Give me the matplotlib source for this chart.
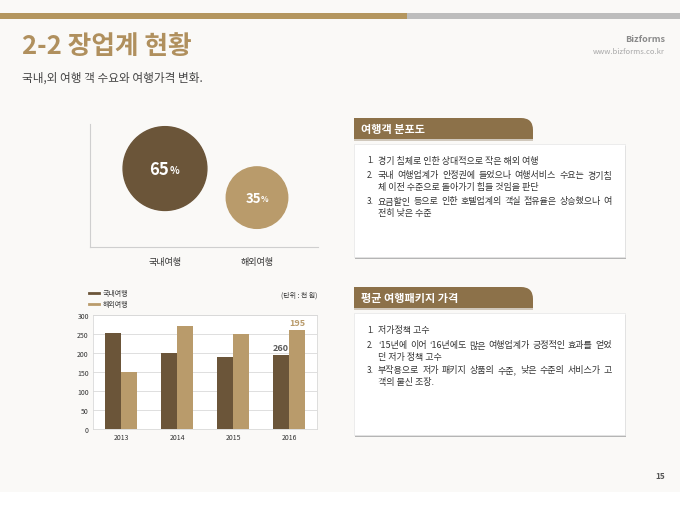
import matplotlib
matplotlib.use("Agg")
import matplotlib.pyplot as plt
import numpy as np
from matplotlib.patches import Rectangle, PathPatch
from matplotlib.path import Path
from matplotlib.lines import Line2D

plt.rcParams['font.family'] = ['Noto Sans CJK KR', 'DejaVu Sans']

# data
bubble_labels = ["국내여행", "해외여행"]
bubble_values = [65, 35]

years = ["2013", "2014", "2015", "2016"]
domestic = [252, 200, 190, 195]
overseas = [150, 270, 250, 260]
series_names = ["국내여행", "해외여행"]
# labels as printed on the slide
point_labels = {(3, 0): "260", (3, 1): "195"}

box1_title = "여행객 분포도"
box1_lines = [
    ("1.", "경기 침체로 인한 상대적으로 작은 해외 여행", False),
    ("2.", "국내 여행업계가 안정권에 들었으나 여행서비스 수요는 경기침", True),
    ("", "체 이전 수준으로 돌아가기 힘들 것임을 판단", False),
    ("3.", "요금할인 등으로 인한 호텔업계의 객실 점유율은 상승했으나 여", True),
    ("", "전히 낮은 수준", False),
]
box2_title = "평균 여행패키지 가격"
box2_lines = [
    ("1.", "저가정책 고수", False),
    ("2.", "‘15년에 이어 ‘16년에도 많은 여행업계가 긍정적인 효과를 얻었", True),
    ("", "던 저가 정책 고수", False),
    ("3.", "부작용으로 저가 패키지 상품의 수준, 낮은 수준의 서비스가 고", True),
    ("", "객의 불신 조장.", False),
]

dark = "#6b5539"
gold = "#b99b6b"
title_col = "#b0905e"
tab_col = "#8c7149"

W, H = 680, 510
fig = plt.figure(figsize=(6.8, 5.1), dpi=100)
fig.patch.set_facecolor("#faf9f7")

bg = fig.add_axes([0, 0, 1, 1], zorder=0)
bg.set_xlim(0, W)
bg.set_ylim(H, 0)
bg.axis("off")
renderer = fig.canvas.get_renderer()

# bottom white strip and top band
bg.add_patch(Rectangle((0, 493), W, 17, color="white", lw=0))
bg.add_patch(Rectangle((0, 14), 407, 6, color="#b4965f", lw=0))
bg.add_patch(Rectangle((407, 14), W - 407, 6, color="#bdbdbd", lw=0))

bg.text(22, 47, "2-2 장업계 현황", fontsize=18.5, fontweight="bold", color=title_col, va="center")
bg.text(22, 78, "국내,외 여행 객 수요와 여행가격 변화.", fontsize=8.4, color="#444444", va="center")
bg.text(665, 40, "Bizforms", fontsize=6.5, fontweight="bold", color="#8a8a8a", ha="right", va="center")
bg.text(665, 52, "www.bizforms.co.kr", fontsize=5.5, color="#a8a8a8", ha="right", va="center")
bg.text(660, 477, "15", fontsize=6, fontweight="bold", color="#555555", ha="center", va="center")


def put_line(txt, y, x_left, x_right, justify, fs):
    if not justify:
        bg.text(x_left, y, txt, fontsize=fs, color="#333333", va="center")
        return
    words = txt.split(" ")
    objs = [bg.text(0, y, w, fontsize=fs, color="#333333", va="center") for w in words]
    widths = [o.get_window_extent(renderer).width for o in objs]
    gap = (x_right - x_left - sum(widths)) / (len(words) - 1)
    x = x_left
    for o, w in zip(objs, widths):
        o.set_x(x)
        x += w + gap


def text_box(top, bottom, title, lines, line_ys):
    x0, x1 = 354, 625
    # tab with rounded top-right corner
    tt, tb, tr = top - 26, top - 5, 533
    r = 12
    verts = [(x0, tb), (x0, tt), (tr - r, tt), (tr, tt), (tr, tt + r), (tr, tb), (x0, tb)]
    codes = [Path.MOVETO, Path.LINETO, Path.LINETO, Path.CURVE3, Path.CURVE3, Path.LINETO, Path.CLOSEPOLY]
    bg.add_patch(PathPatch(Path(verts, codes), facecolor=tab_col, lw=0))
    bg.add_patch(Rectangle((x0, tb), tr - x0, 1.5, color="#d0c8bc", lw=0))
    bg.text(x0 + 7, (tt + tb) / 2 + 0.5, title, fontsize=8, fontweight="bold", color="white", va="center")
    # box with shadow
    bg.add_patch(Rectangle((x0 + 1, top + 2), x1 - x0, bottom - top, color="#b5b5b5", lw=0))
    bg.add_patch(Rectangle((x0, top), x1 - x0, bottom - top, facecolor="white", edgecolor="#e6e6e6", lw=0.5))
    for (num, txt, just), y in zip(lines, line_ys):
        if num:
            bg.text(367, y, num, fontsize=5.8, color="#333333", va="center")
        put_line(txt, y, 378, 612, just, 6.5)


text_box(145, 258, box1_title, box1_lines, [161, 176, 187.5, 202, 213.5])
text_box(314, 436, box2_title, box2_lines, [331, 346, 357.5, 371, 382.5])

# bubble chart
axb = fig.add_axes([90 / W, 1 - 248 / H, 228 / W, 123 / H], zorder=1)
axb.patch.set_alpha(0)
bx = np.arange(len(bubble_values))
axb.scatter(bx, bubble_values, s=[v * 56 for v in bubble_values], c=[dark, gold], zorder=3)
axb.set_xlim(-0.815, 1.663)
axb.set_ylim(-16, 111)
axb.set_yticks([])
axb.set_xticks(bx)
axb.set_xticklabels(bubble_labels, fontsize=6.5, color="#333333")
axb.tick_params(axis="x", length=0, pad=7)
for s in ["top", "right"]:
    axb.spines[s].set_visible(False)
for s in ["left", "bottom"]:
    axb.spines[s].set_color("#cfcfcf")
    axb.spines[s].set_linewidth(0.8)
big = [12, 9.5]
for i, v in enumerate(bubble_values):
    axb.annotate(str(v), (bx[i], v), xytext=(3, 0), textcoords="offset points",
                 ha="right", va="center", fontsize=big[i], fontweight="bold", color="white", zorder=4)
    axb.annotate("%", (bx[i], v), xytext=(3, -1), textcoords="offset points",
                 ha="left", va="center", fontsize=big[i] * 0.6, fontweight="bold", color="white", zorder=4)

# bar chart
ax = fig.add_axes([93 / W, 1 - 430 / H, 224 / W, 114 / H], zorder=1)
ax.set_facecolor("white")
xi = np.arange(len(years))
bw = 0.29
ax.bar(xi - bw / 2, domestic, bw, color=dark, zorder=3)
ax.bar(xi + bw / 2, overseas, bw, color=gold, zorder=3)
ax.set_ylim(0, 300)
ax.set_xlim(-0.5, len(years) - 0.5)
ax.set_yticks(range(0, 301, 50))
ax.yaxis.grid(True, color="#d9d9d9", lw=0.6, zorder=0)
ax.set_xticks(xi)
ax.set_xticklabels(years)
ax.tick_params(labelsize=5, colors="#333333", length=0, pad=3)
for s in ax.spines.values():
    s.set_color("#d9d9d9")
    s.set_linewidth(0.6)
for (i, k), lab in point_labels.items():
    vals = domestic if k == 0 else overseas
    off = -bw / 2 if k == 0 else bw / 2
    ax.annotate(lab, (i + off, vals[i]), xytext=(0, 2), textcoords="offset points",
                ha="center", va="bottom", fontsize=6.5, fontweight="bold",
                color="#595959" if k == 0 else gold)

handles = [Line2D([], [], color=dark, lw=2), Line2D([], [], color=gold, lw=2)]
fig.legend(handles, series_names, loc="upper left", bbox_to_anchor=(86 / W, 1 - 287 / H),
           frameon=False, fontsize=5, handlelength=1.3, handletextpad=0.6, labelspacing=0.4,
           borderpad=0, labelcolor="#333333")
bg.text(317, 296, "(단위 : 천 원)", fontsize=5, color="#333333", ha="right", va="center")

fig.savefig("out.png", dpi=100, facecolor=fig.get_facecolor())
